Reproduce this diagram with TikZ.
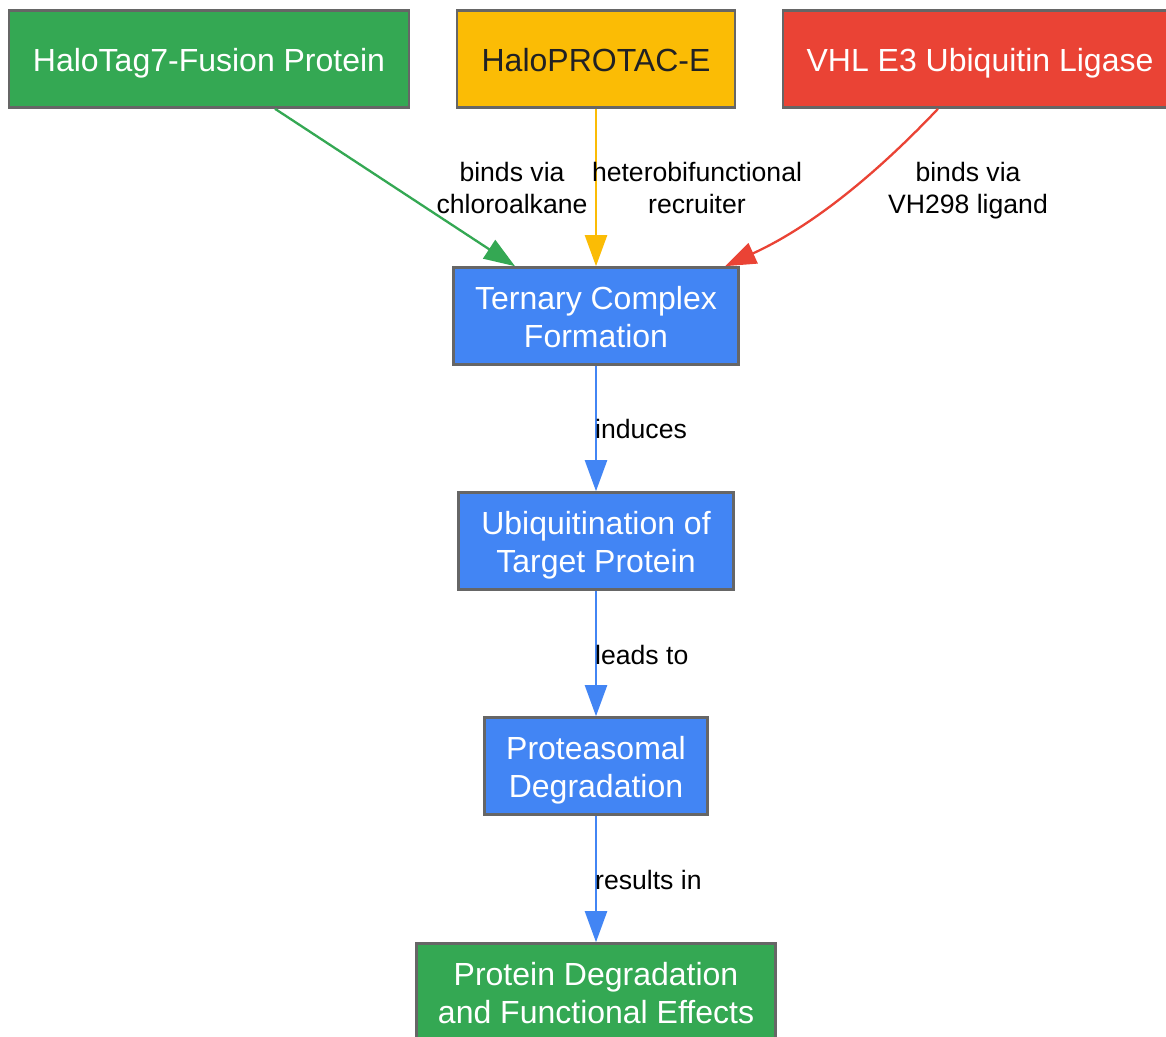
\documentclass[tikz,border=0pt]{standalone}
\usepackage{fontspec}
\setmainfont{Liberation Sans}
\usetikzlibrary{arrows.meta}
\definecolor{gGreen}{HTML}{34A853}
\definecolor{gYellow}{HTML}{FBBC05}
\definecolor{gRed}{HTML}{EA4335}
\definecolor{gBlue}{HTML}{4285F4}
\definecolor{gBorder}{HTML}{666666}
\definecolor{gDark}{HTML}{202124}
\tikzset{
  box/.style={draw=gBorder, line width=2.6pt, inner sep=0pt, align=center,
    font=\fontsize{32}{38}\selectfont, text=white, minimum height=97pt},
  oneline/.style={text height=24pt, text depth=0pt},
  twoline/.style={text height=62pt, text depth=0pt},
  lbl/.style={font=\fontsize{26.6}{32}\selectfont, text=black, align=center, inner sep=0pt},
  conn/.style={line width=2.3pt, -{Triangle[length=31pt,width=22pt]}},
}
\begin{document}
\begin{tikzpicture}[x=1pt,y=-1pt]
\path[use as bounding box, clip] (0,0) rectangle (1166,1036);
\fill[white] (0,0) rectangle (1166,1036);
\node[box, oneline, fill=gGreen, minimum width=400pt] (hal) at (209,59) {HaloTag7-Fusion Protein};
\node[box, oneline, fill=gYellow, minimum width=278pt, text=gDark] (pro) at (596,59) {HaloPROTAC-E};
\node[box, oneline, fill=gRed, minimum width=394pt] (vhl) at (980,59) {VHL E3 Ubiquitin Ligase};
\node[box, twoline, fill=gBlue, minimum width=285pt] (ter) at (596,316) {Ternary Complex\\Formation};
\node[box, twoline, fill=gBlue, minimum width=275pt] (ubi) at (596,541) {Ubiquitination of\\Target Protein};
\node[box, twoline, fill=gBlue, minimum width=223pt] (prt) at (596,766) {Proteasomal\\Degradation};
\node[box, twoline, fill=gGreen, minimum width=359pt] (eff) at (596,992) {Protein Degradation\\and Functional Effects};

\draw[conn, draw=gGreen] ([xshift=66pt]hal.south) -- ([xshift=-81pt]ter.north);
\draw[conn, draw=gYellow] (pro.south) -- (ter.north);
\draw[conn, draw=gRed] ([xshift=-42pt]vhl.south) .. controls (880,170) and (815,225) .. ([xshift=129pt]ter.north);
\draw[conn, draw=gBlue] (ter.south) -- (ubi.north);
\draw[conn, draw=gBlue] (ubi.south) -- (prt.north);
\draw[conn, draw=gBlue] (prt.south) -- (eff.north);

\node[lbl] (l1) at (512,188) {binds via\\chloroalkane};
\node[lbl] (l2) at (697,188) {heterobifunctional\\recruiter};
\node[lbl] (l3) at (968,190.5) {binds via\\VH298 ligand};
\node[lbl, anchor=west] (l4) at (595,429) {induces};
\node[lbl, anchor=west] (l5) at (595,655) {leads to};
\node[lbl, anchor=west] (l6) at (595,880) {results in};
\end{tikzpicture}
\end{document}
